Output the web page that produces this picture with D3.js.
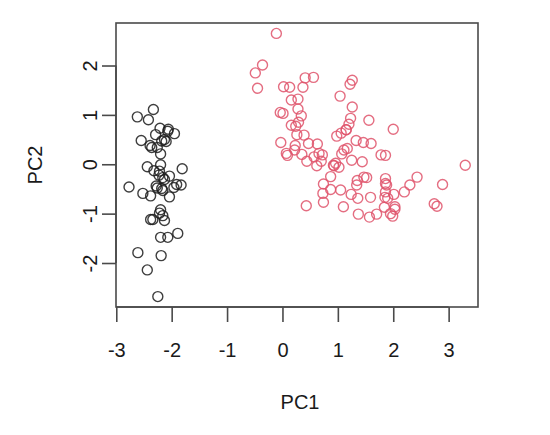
<!DOCTYPE html>
<html>
<head>
<meta charset="utf-8">
<script src="https://cdn.jsdelivr.net/npm/d3@7"></script>
<style>
  html, body { margin: 0; padding: 0; background: #fff; }
  svg { display: block; }
  text { font-family: "Liberation Sans", Arial, Helvetica, sans-serif; fill: #1a1a1a; }
</style>
</head>
<body>
<svg id="chart" width="550" height="435"></svg>
<script>
// Group 1 (black) scores
const pc1Black = [-2.26,-2.07,-2.36,-2.29,-2.38,-2.07,-2.44,-2.23,-2.33,-2.18,-2.16,-2.32,-2.21,-2.62,-2.19,-2.25,-2.20,-2.18,-1.89,-2.34,-1.91,-2.20,-2.77,-1.81,-2.22,-1.95,-2.04,-2.16,-2.13,-2.26,-2.13,-1.83,-2.61,-2.44,-2.10,-2.20,-2.04,-2.52,-2.42,-2.16,-2.28,-2.55,-1.96,-2.13,-2.06,-2.38,-2.39,-2.22,-2.20];
const pc2Black = [-0.48,0.67,0.34,0.60,-0.64,-1.48,-0.05,-0.22,1.11,0.47,-1.04,-0.13,0.73,0.96,-1.85,-2.68,-1.48,-0.49,-1.40,-1.12,-0.41,-0.92,-0.46,-0.09,-0.14,0.62,-0.24,-0.53,-0.31,0.34,0.50,-0.42,-1.79,-2.14,0.46,0.21,-0.66,-0.59,0.90,-0.27,-0.44,0.48,-0.47,-1.14,0.71,-1.12,0.38,-0.99,-0.01];
// Group 2 (red) scores
const pc1Red = [1.10,0.73,1.24,0.41,1.07,0.39,0.74,-0.49,0.93,0.01,-0.11,0.44,0.56,0.72,-0.03,0.87,0.35,0.16,1.22,0.16,0.74,0.47,1.23,0.63,0.70,0.87,1.25,1.35,0.66,-0.04,0.13,0.02,0.24,1.06,0.22,0.43,1.05,1.04,0.07,0.28,0.28,0.62,0.34,-0.36,0.29,0.09,0.23,0.57,-0.45,0.26,
  1.84,1.15,2.20,1.44,1.86,2.74,0.37,2.30,2.00,1.36,1.60,1.88,1.26,1.46,1.59,1.47,3.30,1.26,2.03,0.98,2.89,1.33,1.70,1.95,1.17,1.02,1.78,1.86,2.43,1.86,1.11,1.20,2.79,1.57,1.34,0.92,1.85,2.01,1.90,1.15,2.03,1.99,1.86,1.56,1.52,1.37,0.96];
const pc2Red = [-0.86,-0.59,-0.61,1.75,0.21,0.59,-0.77,1.85,-0.03,1.03,2.65,0.06,1.76,0.19,0.44,-0.51,0.20,0.79,1.62,1.30,-0.40,0.42,0.93,0.41,0.06,-0.25,0.08,-0.33,0.22,1.05,1.56,1.57,0.77,0.63,0.29,-0.84,-0.52,1.38,0.22,1.32,1.12,-0.03,0.98,2.01,0.85,0.18,0.38,0.15,1.54,0.60,
  -0.87,0.70,-0.56,0.05,-0.29,-0.80,1.56,-0.42,0.71,-0.69,0.42,-0.42,1.16,0.44,-0.67,-0.26,-0.02,1.70,-0.91,0.57,-0.41,0.48,-1.01,-1.00,0.32,-0.06,0.19,-0.56,-0.26,0.18,0.29,0.81,-0.85,-1.07,-0.42,-0.02,-0.67,-0.61,-0.69,0.70,-0.86,-1.05,-0.39,0.89,-0.27,-1.01,0.02];

const xTicks = [-3,-2,-1,0,1,2,3];
const yTicks = [-2,-1,0,1,2];
const xLabel = "PC1";
const yLabel = "PC2";

const box = {left: 116, right: 478, top: 23, bottom: 307};
const svg = d3.select("#chart");

const x = d3.scaleLinear().domain([-3.005, 3.53]).range([box.left, box.right]);
const y = d3.scaleLinear().domain([-2.891, 2.861]).range([box.bottom, box.top]);

const axisColor = "#4a4a4a";
const fontSize = 20;
const fmt = d => d < 0 ? "-" + Math.abs(d) : String(d);

// plot box
svg.append("rect")
  .attr("x", box.left).attr("y", box.top)
  .attr("width", box.right - box.left).attr("height", box.bottom - box.top)
  .attr("fill", "none").attr("stroke", axisColor).attr("stroke-width", 1.6);

// x axis
const xAxis = d3.axisBottom(x).tickValues(xTicks).tickSize(15).tickFormat(fmt);
const gx = svg.append("g").attr("transform", `translate(0,${box.bottom})`).call(xAxis);
gx.attr("font-size", null).attr("font-family", null);
gx.select(".domain").attr("d", `M${x(xTicks[0])},0H${x(xTicks[xTicks.length-1])}`).attr("stroke", axisColor).attr("stroke-width", 1.6);
gx.selectAll(".tick line").attr("stroke", axisColor).attr("stroke-width", 1.6);
gx.selectAll(".tick text")
  .attr("y", 43).attr("dy", "0.36em")
  .style("font-size", fontSize + "px").style("fill", "#1a1a1a");

// y axis
const yAxis = d3.axisLeft(y).tickValues(yTicks).tickSize(14).tickFormat(fmt);
const gy = svg.append("g").attr("transform", `translate(${box.left},0)`).call(yAxis);
gy.attr("font-size", null).attr("font-family", null);
gy.select(".domain").attr("d", `M0,${y(yTicks[0])}V${y(yTicks[yTicks.length-1])}`).attr("stroke", axisColor).attr("stroke-width", 1.6);
gy.selectAll(".tick line").attr("stroke", axisColor).attr("stroke-width", 1.6);
gy.selectAll(".tick text")
  .attr("x", null).attr("dy", "0.36em")
  .attr("text-anchor", "middle")
  .attr("transform", "translate(-26,0) rotate(-90)")
  .style("font-size", fontSize + "px").style("fill", "#1a1a1a");

// axis titles
svg.append("text").attr("x", 300).attr("y", 402)
  .attr("text-anchor", "middle").attr("dy", "0.36em")
  .style("font-size", fontSize + "px").text(xLabel);
svg.append("text")
  .attr("transform", `translate(35,${(box.top + box.bottom) / 2}) rotate(-90)`)
  .attr("text-anchor", "middle").attr("dy", "0.36em")
  .style("font-size", fontSize + "px").text(yLabel);

// points
const blackPts = pc1Black.map((v, i) => [v, pc2Black[i]]);
const redPts = pc1Red.map((v, i) => [v, pc2Red[i]]);

svg.append("g").selectAll("circle").data(blackPts).join("circle")
  .attr("cx", d => x(d[0])).attr("cy", d => y(d[1])).attr("r", 5)
  .attr("fill", "none").attr("stroke", "#1c1c1c").attr("stroke-width", 1.4).attr("stroke-opacity", 0.85);

svg.append("g").selectAll("circle").data(redPts).join("circle")
  .attr("cx", d => x(d[0])).attr("cy", d => y(d[1])).attr("r", 5)
  .attr("fill", "none").attr("stroke", "#DF536B").attr("stroke-width", 1.4).attr("stroke-opacity", 0.85);
</script>
</body>
</html>
